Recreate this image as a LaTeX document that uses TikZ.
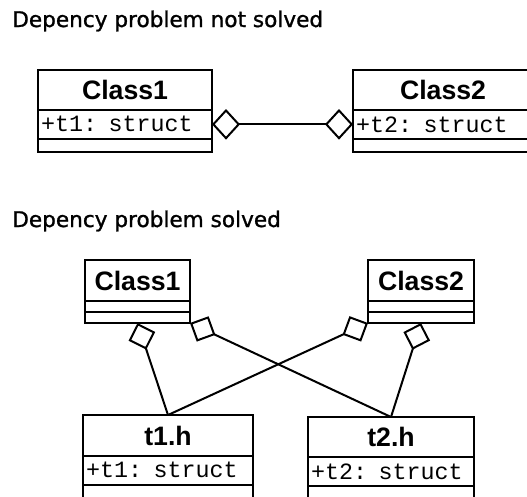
\documentclass[tikz,border=0pt]{standalone}
\usepackage{fontspec}
\setmainfont{Liberation Sans}
\newfontfamily\umltitle[FakeBold=1.2]{DejaVu Sans}
\newfontfamily\umlmono{Liberation Mono}
\usetikzlibrary{arrows.meta,positioning}

\tikzset{
  umlbox/.style={draw, line width=1.5pt, inner sep=0pt, outer sep=0pt},
  namepart/.style={umlbox, minimum height=#1, font=\bfseries\fontsize{20}{24}\selectfont},
  namepart/.default=30pt,
  attrpart/.style={umlbox, minimum height=21.5pt, inner xsep=2.25pt, align=left, font=\umlmono\fontsize{17.5}{20}\selectfont},
  oppart/.style={umlbox, minimum height=#1},
  oppart/.default=9.75pt,
  heading/.style={anchor=base west, inner sep=0pt, font=\umltitle\fontsize{16.2}{19}\selectfont},
  aggr/.style={line width=1.5pt, {Diamond[open,length=21pt,width=21pt]}-},
}

\begin{document}
\begin{tikzpicture}[x=0.75pt,y=0.75pt,yscale=-1,xscale=1]
\useasboundingbox (0,0) rectangle (527,496);

% Text Node
\node (head1) [heading] at (12,27) {Depency problem not solved};

% Class1, not solved
\node (c1name) [namepart, minimum width=130.5pt, anchor=north west] at (38,70) {Class1};
\node (c1attr) [attrpart, text width=126pt, below=0pt of c1name] {+t1: struct};
\node (c1op) [oppart, minimum width=130.5pt, below=0pt of c1attr] {};

% Class2, not solved
\node (c2name) [namepart, minimum width=135pt, anchor=north west] at (353,70) {Class2};
\node (c2attr) [attrpart, text width=130.5pt, below=0pt of c2name] {+t2: struct};
\node (c2op) [oppart, minimum width=135pt, below=0pt of c2attr] {};

% aggregation both ways
\draw [line width=1.5pt, {Diamond[open,length=21pt,width=23pt]}-{Diamond[open,length=21pt,width=23pt]}] (c1attr.east) -- (c2attr.west);

% Text Node
\node (head2) [heading] at (12,227) {Depency problem solved};

% Class1, solved
\node (c1bname) [namepart=30.75pt, minimum width=78.75pt, anchor=north west] at (85,260) {Class1};
\node (c1bopa) [oppart=8.25pt, minimum width=78.75pt, below=0pt of c1bname] {};
\node (c1bopb) [oppart=8.25pt, minimum width=78.75pt, below=0pt of c1bopa] {};

% Class2, solved
\node (c2bname) [namepart=30.75pt, minimum width=79.5pt, anchor=north west] at (368,260) {Class2};
\node (c2bopa) [oppart=8.25pt, minimum width=79.5pt, below=0pt of c2bname] {};
\node (c2bopb) [oppart=8.25pt, minimum width=79.5pt, below=0pt of c2bopa] {};

% t1.h
\node (t1name) [namepart=30.75pt, minimum width=127.5pt, anchor=north west] at (83,415) {t1.h};
\node (t1attr) [attrpart, text width=123pt, below=0pt of t1name] {+t1: struct};
\node (t1op) [oppart=10.5pt, minimum width=127.5pt, below=0pt of t1attr] {};

% t2.h
\node (t2name) [namepart, minimum width=124.5pt, anchor=north west] at (308,417) {t2.h};
\node (t2attr) [attrpart, text width=120pt, below=0pt of t2name] {+t2: struct};
\node (t2op) [oppart=10.5pt, minimum width=124.5pt, below=0pt of t2attr] {};

% crossed aggregations
\draw [aggr] (c1bopb.south) -- (t1name.north);
\draw [aggr] (c1bopb.south east) -- (t2name.north);
\draw [aggr] (c2bopb.south west) -- (t1name.north);
\draw [aggr] (c2bopb.south) -- (t2name.north);

\end{tikzpicture}
\end{document}
